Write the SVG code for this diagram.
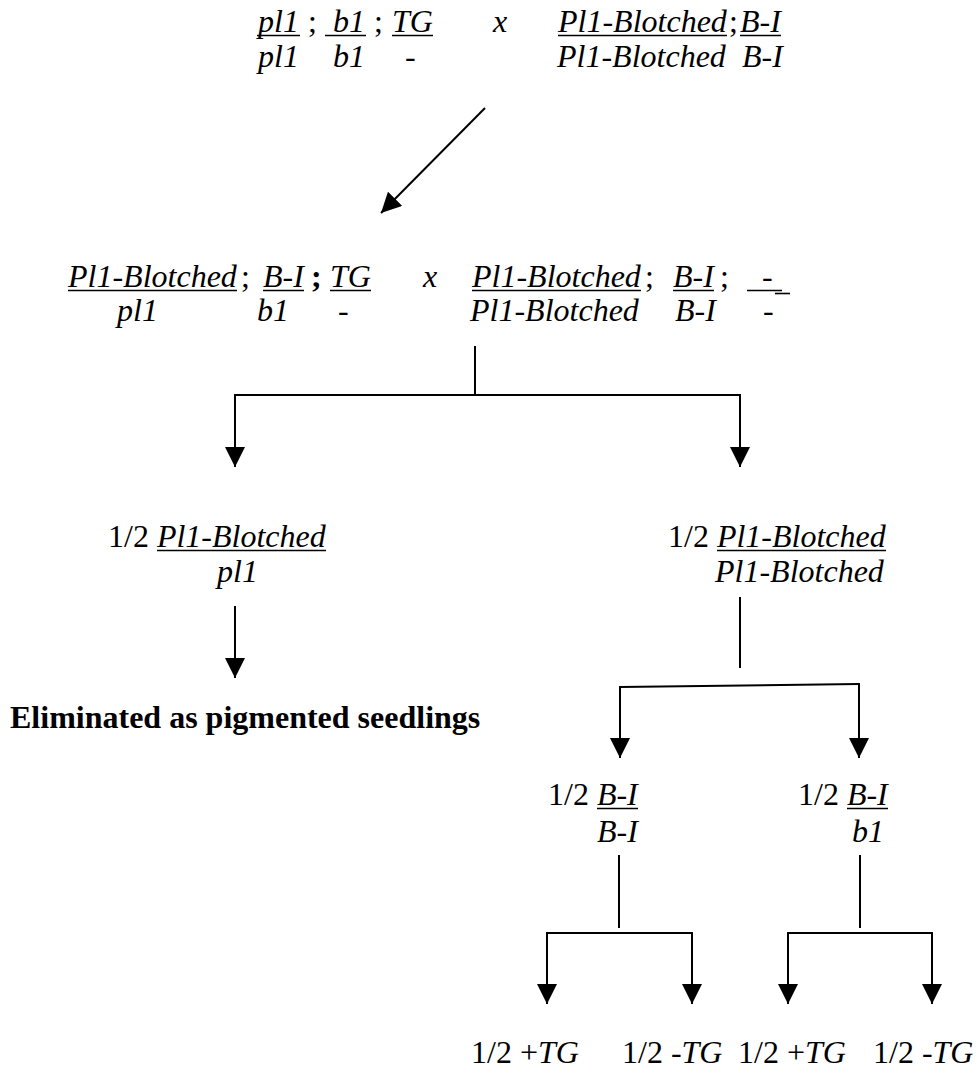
<svg xmlns="http://www.w3.org/2000/svg" width="979" height="1069" viewBox="0 0 979 1069" font-family="'Liberation Serif', 'Times New Roman', Times, 'DejaVu Serif', serif">
<style>
text{font-family:'Liberation Serif','Times New Roman',Times,'DejaVu Serif',serif;font-size:32px;fill:#000}
.i{font-style:italic}
.b{font-weight:bold}
.ul{stroke:#000;stroke-width:1.6}
.c{stroke:#000;stroke-width:2;fill:none}
</style>
<defs>
<marker id="ah" markerUnits="userSpaceOnUse" markerWidth="22" markerHeight="22" refX="20" refY="10" orient="auto">
<path d="M0,0 L20,10 L0,20 z" fill="#000"/>
</marker>
</defs>
<rect width="979" height="1069" fill="#fff"/>

<g id="parents1">
<text class="i" x="258" y="32">pl1</text>
<text x="308" y="32">;</text>
<text class="i" x="333" y="32">b1</text>
<text x="374" y="32">;</text>
<text class="i" x="392" y="32">TG</text>
<text class="i" x="493" y="32">x</text>
<text class="i" x="558" y="32">Pl1-Blotched</text>
<text x="729" y="32">;</text>
<text class="i" x="740" y="32">B-I</text>
<line class="ul" x1="257" y1="35.5" x2="300" y2="35.5"/>
<line class="ul" x1="325" y1="35.5" x2="366" y2="35.5"/>
<line class="ul" x1="392" y1="35.5" x2="433" y2="35.5"/>
<line class="ul" x1="558" y1="35.5" x2="727" y2="35.5"/>
<line class="ul" x1="740" y1="35.5" x2="781" y2="35.5"/>
<text class="i" x="258" y="67">pl1</text>
<text class="i" x="333" y="67">b1</text>
<text class="i" x="405" y="67">-</text>
<text class="i" x="557" y="67">Pl1-Blotched</text>
<text class="i" x="742" y="67">B-I</text>
</g>

<g id="parents2">
<text class="i" x="68" y="287">Pl1-Blotched</text>
<text x="241" y="287">;</text>
<text class="i" x="263" y="287">B-I</text>
<text class="b" x="311" y="287">;</text>
<text class="i" x="330" y="287">TG</text>
<text class="i" x="423" y="287">x</text>
<text class="i" x="472" y="287">Pl1-Blotched</text>
<text x="645" y="287">;</text>
<text class="i" x="673" y="287">B-I</text>
<text x="720" y="287">;</text>
<text class="i" x="762" y="287">-</text>
<line class="ul" x1="68" y1="290.5" x2="237" y2="290.5"/>
<line class="ul" x1="263" y1="290.5" x2="304" y2="290.5"/>
<line class="ul" x1="330" y1="290.5" x2="371" y2="290.5"/>
<line class="ul" x1="472" y1="290.5" x2="641" y2="290.5"/>
<line class="ul" x1="673" y1="290.5" x2="714" y2="290.5"/>
<line class="ul" x1="747" y1="290.5" x2="782" y2="290.5"/>
<line class="ul" x1="775" y1="293.5" x2="790" y2="293.5"/>
<text class="i" x="117" y="321">pl1</text>
<text class="i" x="257" y="321">b1</text>
<text class="i" x="338" y="321">-</text>
<text class="i" x="470" y="321">Pl1-Blotched</text>
<text class="i" x="675" y="321">B-I</text>
<text class="i" x="763" y="321">-</text>
</g>

<g id="left-half">
<text x="108" y="547" xml:space="preserve">1/2 <tspan class="i">Pl1-Blotched</tspan></text>
<line class="ul" x1="157" y1="550.5" x2="326" y2="550.5"/>
<text class="i" x="217" y="582">pl1</text>
</g>

<g id="right-half">
<text x="668" y="547" xml:space="preserve">1/2 <tspan class="i">Pl1-Blotched</tspan></text>
<line class="ul" x1="717" y1="550.5" x2="886" y2="550.5"/>
<text class="i" x="715" y="582">Pl1-Blotched</text>
</g>

<g id="eliminated">
<text class="b" x="10" y="728">Eliminated as pigmented seedlings</text>
</g>

<g id="bi-bi">
<text x="548" y="805" xml:space="preserve">1/2 <tspan class="i">B-I</tspan></text>
<line class="ul" x1="597" y1="808.5" x2="638" y2="808.5"/>
<text class="i" x="597" y="842">B-I</text>
</g>

<g id="bi-b1">
<text x="798" y="805" xml:space="preserve">1/2 <tspan class="i">B-I</tspan></text>
<line class="ul" x1="847" y1="808.5" x2="888" y2="808.5"/>
<text class="i" x="852" y="842">b1</text>
</g>

<g id="tg1"><text x="471" y="1063" xml:space="preserve">1/2 +<tspan class="i">TG</tspan></text></g>
<g id="tg2"><text x="622" y="1063" xml:space="preserve">1/2 -<tspan class="i">TG</tspan></text></g>
<g id="tg3"><text x="738" y="1063" xml:space="preserve">1/2 +<tspan class="i">TG</tspan></text></g>
<g id="tg4"><text x="873" y="1063" xml:space="preserve">1/2 -<tspan class="i">TG</tspan></text></g>

<g id="connectors">
<line class="c" x1="485" y1="108" x2="381" y2="213" marker-end="url(#ah)"/>
<line class="c" x1="475" y1="346" x2="475" y2="395"/>
<line class="c" x1="235" y1="395" x2="740" y2="395"/>
<line class="c" x1="235" y1="394" x2="235" y2="467" marker-end="url(#ah)"/>
<line class="c" x1="740" y1="394" x2="740" y2="467" marker-end="url(#ah)"/>
<line class="c" x1="235" y1="606" x2="235" y2="678" marker-end="url(#ah)"/>
<line class="c" x1="740" y1="597" x2="740" y2="668"/>
<line class="c" x1="620" y1="687" x2="859" y2="684"/>
<line class="c" x1="620" y1="686" x2="620" y2="758" marker-end="url(#ah)"/>
<line class="c" x1="859" y1="683" x2="859" y2="758" marker-end="url(#ah)"/>
<line class="c" x1="619" y1="855" x2="619" y2="928"/>
<line class="c" x1="547" y1="933" x2="692" y2="933"/>
<line class="c" x1="547" y1="932" x2="547" y2="1004" marker-end="url(#ah)"/>
<line class="c" x1="692" y1="932" x2="692" y2="1004" marker-end="url(#ah)"/>
<line class="c" x1="860" y1="855" x2="860" y2="928"/>
<line class="c" x1="788" y1="933" x2="932" y2="933"/>
<line class="c" x1="788" y1="932" x2="788" y2="1004" marker-end="url(#ah)"/>
<line class="c" x1="932" y1="932" x2="932" y2="1004" marker-end="url(#ah)"/>
</g>
</svg>
